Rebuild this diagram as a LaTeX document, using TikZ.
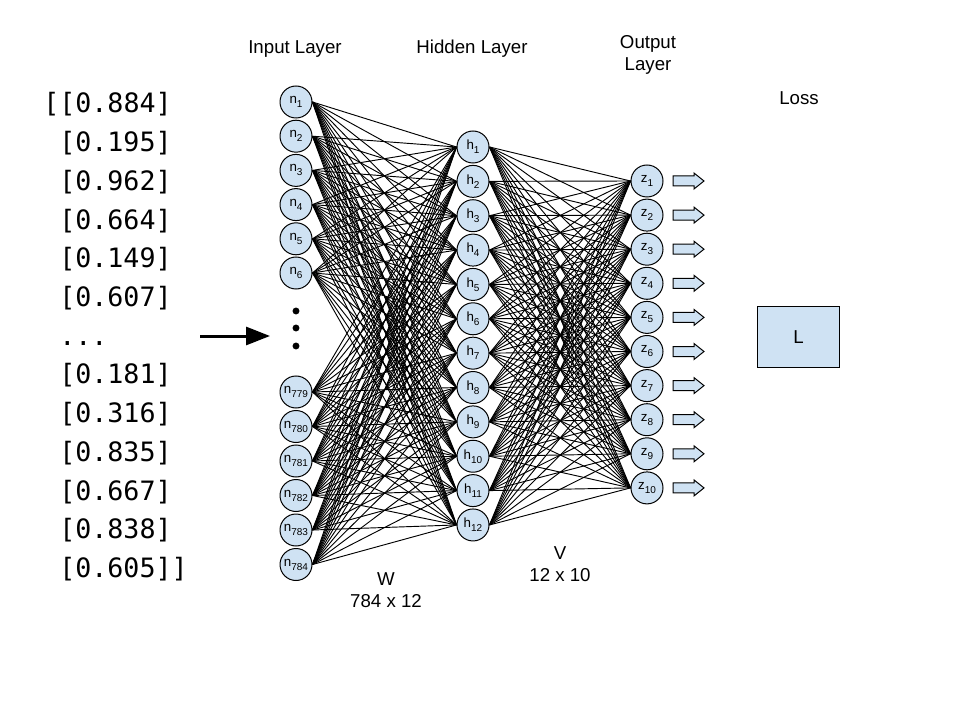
\documentclass[tikz,border=0pt]{standalone}
\usepackage{fontspec}
\setmainfont{Liberation Sans}
\newfontfamily\codefont{DejaVu Sans Mono}
\usetikzlibrary{arrows.meta}
\definecolor{cellblue}{RGB}{207,226,243}
\newcommand\vecgap{...}
\newcommand\idx[1]{\raisebox{-3pt}{\fontsize{7.5}{8}\selectfont#1}}

\begin{document}
\begin{tikzpicture}[x=0.75pt,y=0.75pt,yscale=-1,xscale=1,
  neuron/.style={circle,draw=black,fill=cellblue,line width=0.75pt,minimum size=24pt,inner sep=0pt,font=\fontsize{10}{11}\selectfont},
  weight/.style={line width=0.7pt},
  outarrow/.style={draw=black,fill=cellblue,line width=0.75pt,line join=miter},
  caption/.style={font=\fontsize{14}{16}\selectfont,align=center,inner sep=0pt},
  vector/.style={anchor=base west,inner sep=0pt,font=\codefont\fontsize{20}{24}\selectfont}]
\useasboundingbox (0,0) rectangle (960,720);

% Input vector
\node[vector] (x1) at (43,113) {[[0.884]};
\foreach \v [count=\i from 2] in {[0.195],[0.962],[0.664],[0.149],[0.607],\vecgap,[0.181],[0.316],[0.835],[0.667],[0.838],[0.605]]}
  \node[vector] (x\i) at (59,{113+38.7*(\i-1)}) {\v};

% Input arrow and dots
\coordinate (feedtail) at (200,336);
\coordinate (feedtip) at (270,336);
\draw[line width=2.25pt,-{Triangle[length=18pt,width=13.5pt]}] (feedtail) -- (feedtip);
\foreach \y in {311,328,346}
  \fill (296,\y) circle (2.6pt);

% Input layer
\foreach \i in {1,...,6}
  \node[neuron] (n\i) at (296,{102+34.2*(\i-1)}) {n\idx{\i}};
\foreach \i [count=\k from 0] in {779,...,784}
  \node[neuron] (n\i) at (296,{392+34.5*\k}) {n\idx{\i}};

% Hidden layer
\foreach \j in {1,...,12}
  \node[neuron] (h\j) at (473,{147+34.36*(\j-1)}) {h\idx{\j}};

% Output layer
\foreach \k in {1,...,10}
  \node[neuron] (z\k) at (647,{181+34.1*(\k-1)}) {z\idx{\k}};

% Weights W
\foreach \i in {1,2,3,4,5,6,779,780,781,782,783,784}
  \foreach \j in {1,...,12}
    \draw[weight] (n\i.east) -- (h\j.west);
% Weights V
\foreach \j in {1,...,12}
  \foreach \k in {1,...,10}
    \draw[weight] (h\j.east) -- (z\k.west);

% Output arrows
\foreach \k in {1,...,10}
  \draw[outarrow] ([xshift=19.5pt,yshift=3.75pt]z\k.center) -- ++(15.75pt,0) -- ++(0,2.25pt)
    -- ++(7.5pt,-6pt) -- ++(-7.5pt,-6pt) -- ++(0,2.25pt) -- ++(-15.75pt,0) -- cycle;

% Loss
\node[draw=black,fill=cellblue,line width=0.75pt,minimum width=62pt,minimum height=45pt,font=\fontsize{14}{16}\selectfont] (loss) at (798.5,337) {L};

% Text Node
\node[caption] (inlabel) at (295,49) {Input Layer};
\node[caption] (hidlabel) at (472,49) {Hidden Layer};
\node[caption] (outlabel) at (648,55) {Output\\Layer};
\node[caption] (losslabel) at (799,98) {Loss};
\node[caption] (wlabel) at (386,590) {W\\784 x 12};
\node[caption] (vlabel) at (560,564) {V\\12 x 10};

\end{tikzpicture}
\end{document}
